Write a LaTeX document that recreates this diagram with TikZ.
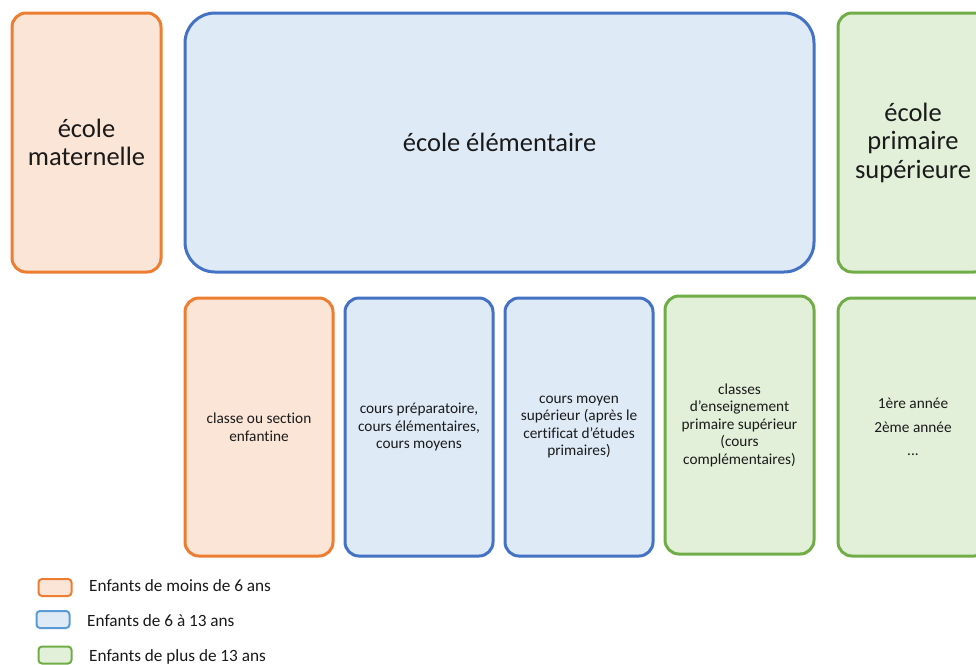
\documentclass[tikz,border=0pt]{standalone}
\usepackage{fontspec}
\setmainfont[Ligatures=NoCommon]{Carlito}
\definecolor{orE}{HTML}{ED7D31}
\definecolor{orF}{HTML}{FBE5D6}
\definecolor{blE}{HTML}{4472C4}
\definecolor{blF}{HTML}{DEEBF7}
\definecolor{blL}{HTML}{5B9BD5}
\definecolor{grE}{HTML}{70AD47}
\definecolor{grF}{HTML}{E2F0D9}
\definecolor{txt}{HTML}{1A1A1A}
\tikzset{
  boxbase/.style={draw, line width=3pt, rounded corners=14pt, align=center, text=txt, inner sep=0pt},
  orbox/.style={boxbase, draw=orE, fill=orF},
  blbox/.style={boxbase, draw=blE, fill=blF},
  grbox/.style={boxbase, draw=grE, fill=grF},
  bigtxt/.style={font=\fontsize{26.5}{28.5}\selectfont},
  smalltxt/.style={font=\fontsize{15.3}{17.5}\selectfont},
  legbox/.style={draw, line width=2pt, rounded corners=3.5pt, minimum width=33pt, minimum height=17pt, inner sep=0pt},
  legtxt/.style={anchor=west, text=txt, font=\fontsize{17.2}{20}\selectfont, inner sep=0pt}
}
\begin{document}
\begin{tikzpicture}[x=1pt,y=-1pt]
\useasboundingbox (0,0) rectangle (976,664);
\clip (0,0) rectangle (976,664);
\fill[white] (0,0) rectangle (976,664);
% top row
\node[orbox, bigtxt, minimum width=149pt, minimum height=259pt] (mat) at (86.5,142.5) {école\\maternelle};
\node[blbox, bigtxt, rounded corners=30pt, minimum width=629pt, minimum height=259pt] (elem) at (499.5,142.5) {école élémentaire};
\node[grbox, bigtxt, minimum width=150pt, minimum height=259pt] (eps) at (913,142.5) {école\\primaire\\supérieure};
% bottom row
\node[orbox, smalltxt, minimum width=148pt, minimum height=258pt] (cse) at (259,427) {classe ou section\\enfantine};
\node[blbox, smalltxt, minimum width=148pt, minimum height=258pt] (cpe) at (419,427) {cours préparatoire,\\cours élémentaires,\\cours moyens};
\node[blbox, smalltxt, minimum width=148pt, minimum height=258pt] (cms) at (579,427) {cours moyen\\supérieur (après le\\certificat d'études\\primaires)};
\node[grbox, smalltxt, minimum width=149pt, minimum height=258pt] (cep) at (739.5,425) {classes\\d'enseignement\\primaire supérieur\\(cours\\complémentaires)};
\node[grbox, smalltxt, minimum width=150pt, minimum height=258pt] (ann) at (913,427) {1ère année\\[6pt]2ème année\\[6pt]...};
% legend
\node[legbox, draw=orE, fill=orF] (l1) at (55,587.5) {};
\node[legbox, draw=blL, fill=blF] (l2) at (53,619.5) {};
\node[legbox, draw=grE, fill=grF] (l3) at (55,655) {};
\node[legtxt] (t1) at (89,586) {Enfants de moins de 6 ans};
\node[legtxt] (t2) at (87,621) {Enfants de 6 à 13 ans};
\node[legtxt] (t3) at (89,657) {Enfants de plus de 13 ans};
\end{tikzpicture}
\end{document}
